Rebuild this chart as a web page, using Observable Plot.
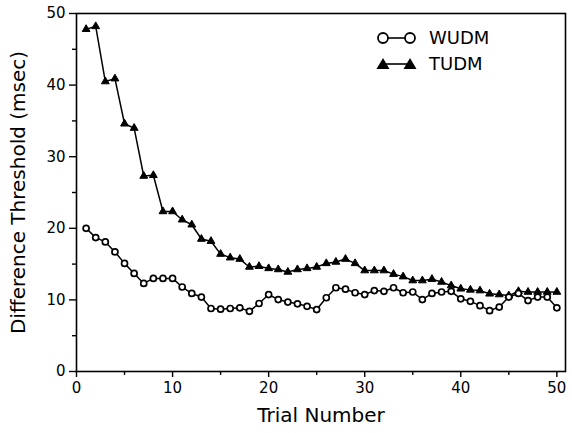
<!DOCTYPE html>
<html>
<head>
<meta charset="utf-8">
<script src="https://cdn.jsdelivr.net/npm/d3@7"></script>
<script src="https://cdn.jsdelivr.net/npm/@observablehq/plot@0.6"></script>
<style>
  html, body { margin: 0; padding: 0; background: #fff; }
  #wrap { position: relative; width: 572px; height: 433px; }
  #legend { position: absolute; left: 0; top: 0; pointer-events: none; }
</style>
</head>
<body>
<div id="wrap"></div>
<script>
const trials = [1,2,3,4,5,6,7,8,9,10,11,12,13,14,15,16,17,18,19,20,21,22,23,24,25,26,27,28,29,30,31,32,33,34,35,36,37,38,39,40,41,42,43,44,45,46,47,48,49,50];
const wudm = [20.0,18.7,18.1,16.7,15.1,13.7,12.3,13.0,13.0,13.0,
              11.8,10.9,10.4,8.8,8.7,8.8,8.9,8.4,9.5,10.75,
              10.05,9.7,9.45,9.1,8.65,10.3,11.7,11.5,11.0,10.75,
              11.3,11.2,11.7,11.0,11.1,10.05,10.9,11.1,11.2,10.15,
              9.8,9.2,8.5,9.0,10.4,10.9,9.9,10.4,10.4,8.9];
const tudm = [47.8,48.2,40.5,40.9,34.6,34.0,27.3,27.4,22.35,22.35,
              21.2,20.5,18.5,18.2,16.4,15.9,15.7,14.6,14.7,14.4,
              14.25,13.9,14.25,14.4,14.6,15.1,15.3,15.7,15.1,14.1,
              14.1,14.1,13.6,13.25,12.7,12.7,12.9,12.5,12.0,11.55,
              11.4,11.3,10.85,10.75,10.6,11.2,11.1,11.1,11.1,11.1];
const xTicks = [0,10,20,30,40,50];
const xMinor = [5,15,25,35,45];
const yTicks = [0,10,20,30,40,50];
const yMinor = [5,15,25,35,45];
const seriesNames = ["WUDM","TUDM"];

const wRows = trials.map((t,i) => ({trial: t, value: wudm[i]}));
const tRows = trials.map((t,i) => ({trial: t, value: tudm[i]}));

const font = "'DejaVu Sans', sans-serif";

const chart = Plot.plot({
  width: 572,
  height: 433,
  marginLeft: 76,
  marginRight: 7,
  marginTop: 13,
  marginBottom: 62,
  style: {fontFamily: font, fontSize: "15px", color: "#000", background: "#fff"},
  x: {domain: [0, 50.9]},
  y: {domain: [0, 50]},
  marks: [
    Plot.frame({stroke: "#000", strokeWidth: 1.6}),
    Plot.axisX({ticks: xTicks, tickSize: 6, tickPadding: 5, tickFormat: d => String(d),
      label: "Trial Number", labelAnchor: "center", labelArrow: "none", labelOffset: 50,
      fontSize: 15, strokeWidth: 1.4}),
    Plot.axisX({ticks: xMinor, tickSize: 4, tickFormat: () => "", label: null, strokeWidth: 1.4}),
    Plot.axisY({ticks: yTicks, tickSize: 7, tickPadding: 4, tickFormat: d => String(d),
      label: "Difference Threshold (msec)", labelAnchor: "center", labelArrow: "none", labelOffset: 66,
      fontSize: 15, strokeWidth: 1.4}),
    Plot.axisY({ticks: yMinor, tickSize: 4, tickFormat: () => "", label: null, strokeWidth: 1.4}),
    Plot.line(wRows, {x: "trial", y: "value", stroke: "#000", strokeWidth: 1.5}),
    Plot.line(tRows, {x: "trial", y: "value", stroke: "#000", strokeWidth: 1.5}),
    Plot.dot(tRows, {x: "trial", y: "value", symbol: "triangle", r: 2.9, fill: "#000", stroke: "#000", strokeWidth: 1}),
    Plot.dot(wRows, {x: "trial", y: "value", symbol: "circle", r: 3, fill: "#fff", stroke: "#000", strokeWidth: 1.7})
  ]
});

d3.select(chart).selectAll("g[aria-label='x-axis label'] text, g[aria-label='y-axis label'] text")
  .attr("font-size", 20);

const wrap = document.getElementById("wrap");
wrap.appendChild(chart);

const lg = d3.select(wrap).append("svg").attr("id", "legend")
  .attr("width", 572).attr("height", 433)
  .attr("font-family", font);
const rowsY = [38, 64];
seriesNames.forEach((name, i) => {
  const y = rowsY[i];
  const g = lg.append("g");
  g.append("line").attr("x1", 383).attr("x2", 410).attr("y1", y).attr("y2", y)
    .attr("stroke", "#000").attr("stroke-width", 1.6);
  if (i === 0) {
    [383, 410].forEach(cx => g.append("circle").attr("cx", cx).attr("cy", y).attr("r", 5)
      .attr("fill", "#fff").attr("stroke", "#000").attr("stroke-width", 1.8));
  } else {
    [383, 410].forEach(cx => g.append("path")
      .attr("d", `M${cx},${y-6}L${cx+6.5},${y+5}L${cx-6.5},${y+5}Z`).attr("fill", "#000"));
  }
  g.append("text").attr("x", 429).attr("y", y).attr("dy", "0.36em")
    .attr("font-size", 18).attr("fill", "#000").text(name);
});
</script>
</body>
</html>
